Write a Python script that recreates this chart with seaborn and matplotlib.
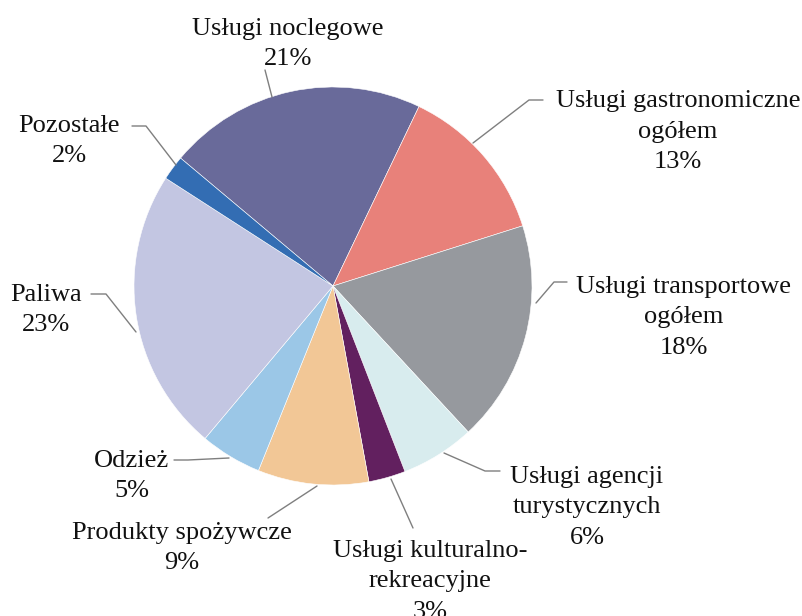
import matplotlib
matplotlib.use("Agg")
import matplotlib.pyplot as plt
import seaborn as sns

# data
categories = [
    "Usługi noclegowe",
    "Usługi gastronomiczne\nogółem",
    "Usługi transportowe\nogółem",
    "Usługi agencji\nturystycznych",
    "Usługi kulturalno-\nrekreacyjne",
    "Produkty spożywcze",
    "Odzież",
    "Paliwa",
    "Pozostałe",
]
shares = [21, 13, 18, 6, 3, 9, 5, 23, 2]
colors = [
    "#696A9A", "#E8817A", "#96999E", "#D8ECEE", "#62205F",
    "#F2C796", "#9BC7E7", "#C3C6E2", "#336DB3",
]

# label block centres and leader lines, in pixel coordinates
label_pos = [(288, 44), (678, 132), (684, 317), (587, 507), (430, 581),
             (182, 548), (132, 476), (46, 310), (69, 141)]
leaders = [
    [(272, 97), (265, 70)],
    [(473, 143), (529, 100), (543, 100)],
    [(536, 303), (554, 282), (567, 282)],
    [(444, 453), (485, 471), (500, 471)],
    [(391, 479), (413, 528)],
    [(317, 486), (268, 518)],
    [(229, 458), (188, 460), (174, 460)],
    [(136, 332), (106, 294), (91, 294)],
    [(176, 165), (146, 126), (132, 126)],
]

sns.set_style("white")
plt.rcParams["font.family"] = ["Liberation Serif", "DejaVu Serif"]

fig = plt.figure(figsize=(8.03, 6.16), dpi=100)
ax = fig.add_axes([0, 0, 1, 1])

# y axis is inverted below, so counterclock=True runs clockwise on screen
ax.pie(
    shares,
    colors=colors,
    center=(333, 286),
    radius=199,
    startangle=220,
    counterclock=True,
    wedgeprops={"edgecolor": "white", "linewidth": 0.4},
)

for name, val, (x, y) in zip(categories, shares, label_pos):
    ax.text(x, y, f"{name}\n{val}%", ha="center", va="center",
            multialignment="center", fontsize=19, linespacing=1.5,
            color="#111111")

for pts in leaders:
    xs, ys = zip(*pts)
    ax.plot(xs, ys, color="#7f7f7f", linewidth=1.0)

ax.set_xlim(0, 803)
ax.set_ylim(616, 0)
ax.set_aspect("equal")
ax.axis("off")

fig.savefig("out.png", dpi=100)
plt.close(fig)
